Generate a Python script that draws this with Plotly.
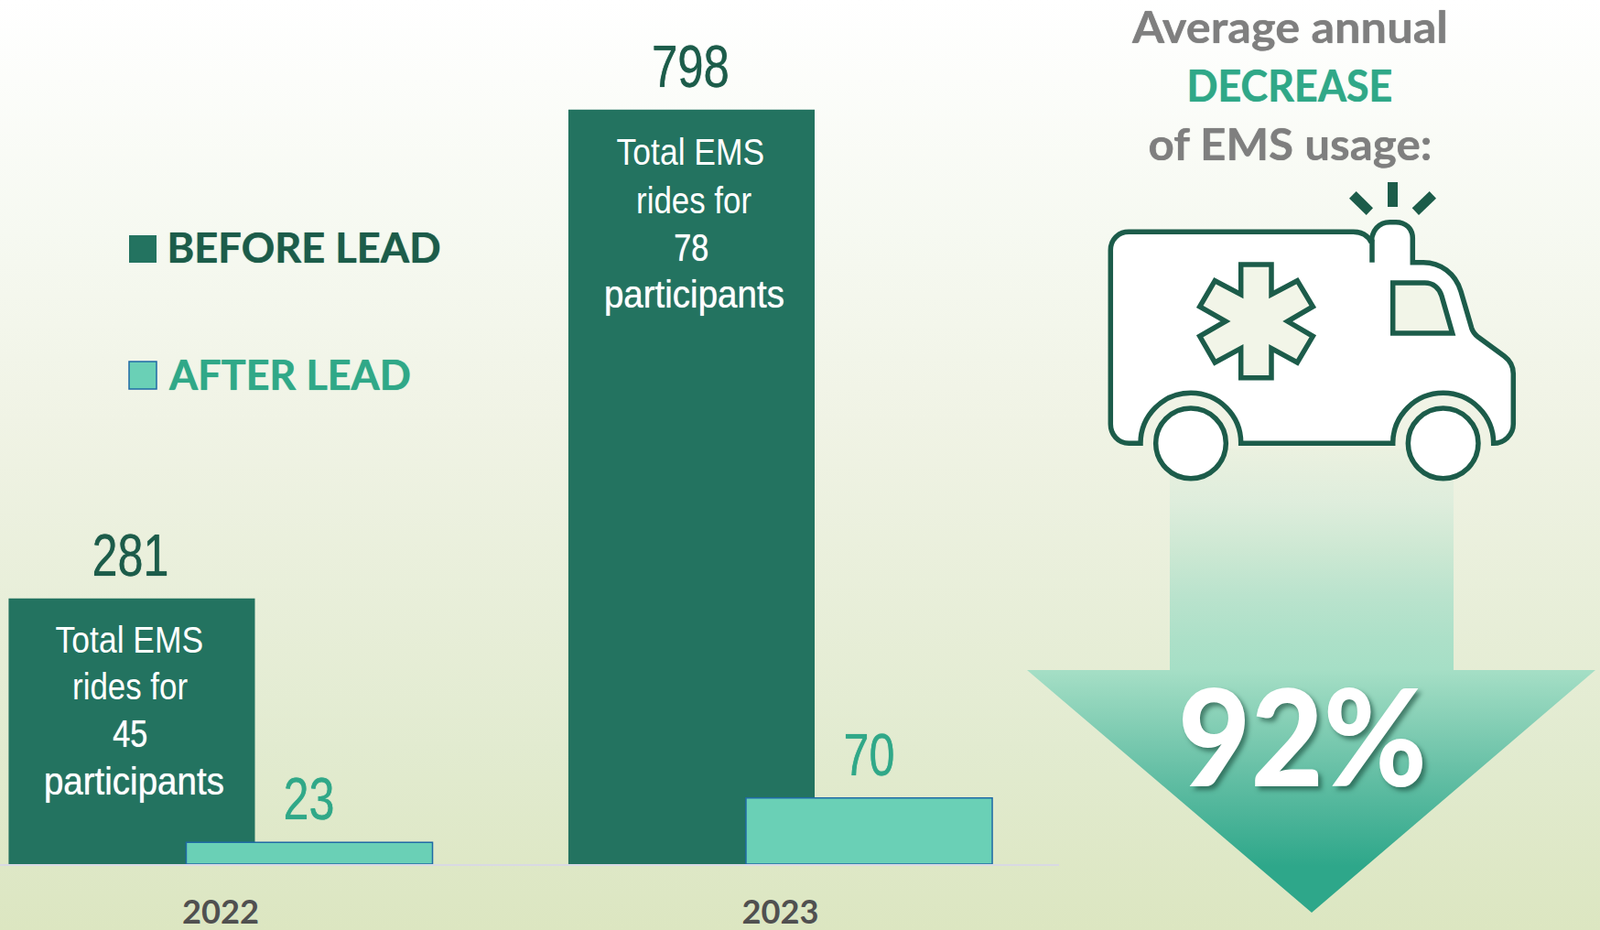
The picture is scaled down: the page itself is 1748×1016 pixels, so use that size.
import json
import plotly.graph_objects as go

# ---- data ----
years = ["2022", "2023"]
before_lead = [281, 798]
after_lead = [23, 70]
before_name = "BEFORE LEAD"
after_name = "AFTER LEAD"
participants = ["45", "78"]
headline = ["Average annual", "DECREASE", "of EMS usage:"]
decrease = "92%"

# ---- styles ----
W, H = 1748, 1016
DARK = "#237360"
DARK_TXT = "#1C5C4A"
LIGHT = "#6AD0B6"
GREEN_TXT = "#30A888"
GRAY_TXT = "#7F7F7F"
EDGE = "#1F6AA5"
NARROW = "Liberation Sans"
BOLD = "Lato"
HOLE = "#F2F5E8"
BAR_W = 0.44
OFF_DARK = -0.3786
OFF_LIGHT = -0.0613

fig = go.Figure()

# background gradient and arrow, on a full-page pixel axis pair
fig.add_trace(go.Scatter(
    x=[0, W, W, 0, 0], y=[0, 0, H, H, 0], mode="lines", fill="toself",
    line=dict(width=0), hoverinfo="skip", showlegend=False,
    fillgradient=dict(type="vertical", start=0, stop=H,
                      colorscale=[[0, "#FFFFFF"], [0.25, "#F6F9F1"], [0.45, "#F0F3E5"],
                                  [0.8, "#E2EBD0"], [1, "#DCE6C1"]])))
ax = [1278, 1588, 1588, 1743, 1433, 1122, 1278, 1278]
ay = [490, 490, 732, 732, 997, 732, 732, 490]
fig.add_trace(go.Scatter(
    x=ax, y=ay, mode="lines", fill="toself", line=dict(width=0),
    hoverinfo="skip", showlegend=False,
    fillgradient=dict(type="vertical", start=490, stop=997,
                      colorscale=[[0, "#EBF1E0"], [0.118, "#DEEDDC"], [0.217, "#CDE8D3"],
                                  [0.316, "#BAE3CD"], [0.414, "#ACE0C8"], [0.475, "#A6DFC6"],
                                  [0.70, "#65BFA5"], [0.9, "#2EA78A"], [1, "#2EA78A"]])))

# bars
fig.add_trace(go.Bar(
    x=years, y=before_lead, name=before_name, xaxis="x2", yaxis="y2",
    width=BAR_W, offset=OFF_DARK, marker=dict(color=DARK, line=dict(width=0)), showlegend=False))
fig.add_trace(go.Bar(
    x=years, y=after_lead, name=after_name, xaxis="x2", yaxis="y2",
    width=BAR_W, offset=OFF_LIGHT, marker=dict(color=LIGHT, line=dict(width=1.5, color=EDGE)),
    showlegend=False))


# ---- ambulance icon: measured in a 3x crop whose corner is (1190, 190) ----
def X(v):
    return 1190 + v / 3


def Y(v):
    return 190 + v / 3


def pt(a, b):
    return f"{X(a):.1f},{Y(b):.1f}"


def arch(cx, cy, r):
    k = 0.5523 * r
    return (f"C{pt(cx + r, cy - k)} {pt(cx + k, cy - r)} {pt(cx, cy - r)} "
            f"C{pt(cx - k, cy - r)} {pt(cx - r, cy - k)} {pt(cx - r, cy)} ")


body = (f"M{pt(1325, 883)} " + arch(1160, 883, 165) + f"L{pt(497, 883)} " + arch(333, 883, 165)
        + f"L{pt(130, 883)} C{pt(95, 883)} {pt(70, 855)} {pt(70, 820)} L{pt(70, 250)} "
        + f"C{pt(70, 215)} {pt(95, 190)} {pt(130, 190)} L{pt(865, 190)} "
        + f"C{pt(895, 190)} {pt(915, 205)} {pt(925, 225)} "
        + f"C{pt(925, 185)} {pt(950, 158)} {pt(985, 158)} L{pt(1005, 158)} "
        + f"C{pt(1037, 158)} {pt(1060, 180)} {pt(1060, 210)} L{pt(1060, 290)} L{pt(1095, 290)} "
        + f"C{pt(1150, 290)} {pt(1200, 325)} {pt(1218, 385)} L{pt(1253, 505)} "
        + f"C{pt(1258, 520)} {pt(1265, 527)} {pt(1275, 535)} L{pt(1360, 597)} "
        + f"C{pt(1380, 612)} {pt(1390, 630)} {pt(1390, 655)} L{pt(1390, 820)} "
        + f"C{pt(1390, 855)} {pt(1360, 883)} {pt(1325, 883)} Z")
star_pts = [(497, 297), (597, 297), (597, 395), (682, 350), (733, 435), (650, 483), (733, 532),
            (682, 618), (597, 572), (597, 668), (497, 668), (497, 572), (412, 618), (362, 532),
            (447, 483), (362, 435), (412, 350), (497, 395)]
star = "M" + " L".join(pt(a, b) for a, b in star_pts) + " Z"
window = (f"M{pt(995, 357)} L{pt(1100, 357)} C{pt(1128, 357)} {pt(1148, 375)} {pt(1155, 400)} "
          f"L{pt(1190, 522)} L{pt(995, 522)} Z")
ray_m = f"M{pt(978, 27)} L{pt(1011, 27)} L{pt(1011, 108)} L{pt(978, 108)} Z"
ray_l = f"M{pt(875, 57)} L{pt(930, 112)} L{pt(908, 135)} L{pt(852, 80)} Z"
ray_r = f"M{pt(1115, 57)} L{pt(1137, 80)} L{pt(1080, 135)} L{pt(1058, 112)} Z"
stub = f"M{pt(927, 215)} L{pt(927, 290)}"

common = dict(xref="x", yref="y", layer="above")
stroke = dict(color=DARK_TXT, width=5.5)
shapes = [
    dict(type="path", path=body, fillcolor="#FFFFFF", line=stroke, **common),
    dict(type="path", path=stub, line=stroke, **common),
    dict(type="path", path=star, fillcolor=HOLE, line=stroke, **common),
    dict(type="path", path=window, fillcolor=HOLE, line=stroke, **common),
    dict(type="path", path=ray_m, fillcolor=DARK_TXT, line=dict(width=0), **common),
    dict(type="path", path=ray_l, fillcolor=DARK_TXT, line=dict(width=0), **common),
    dict(type="path", path=ray_r, fillcolor=DARK_TXT, line=dict(width=0), **common),
]
for cx in (333, 1160):
    shapes.append(dict(type="circle", x0=X(cx - 115), x1=X(cx + 115), y0=Y(883 - 115), y1=Y(883 + 115),
                       fillcolor="#FFFFFF", line=stroke, **common))
# legend swatches
shapes.append(dict(type="rect", x0=141, x1=171, y0=257, y1=287, fillcolor=DARK, line=dict(width=0), **common))
shapes.append(dict(type="rect", x0=141, x1=171, y0=395, y1=425, fillcolor=LIGHT,
                   line=dict(width=1.5, color=EDGE), **common))


def note(text, x, y, family, size, color, **kw):
    anchor = kw.pop("xanchor", "center")
    return dict(text=text, x=x, y=y, xref="x", yref="y", showarrow=False, xanchor=anchor,
                yanchor="middle", font=dict(family=family, size=size, color=color, **kw))


def thick(c):
    return f"0 0 1px {c}"


annotations = [
    note(before_name, 178, 269, BOLD, 46, DARK_TXT, xanchor="left", weight="bold", shadow=thick(DARK_TXT)),
    note(after_name, 179, 408, BOLD, 46, GREEN_TXT, xanchor="left", weight="bold", shadow=thick(GREEN_TXT)),
    note(headline[0], 1409, 29, BOLD, 47, GRAY_TXT, weight="bold", shadow=thick(GRAY_TXT)),
    note(headline[1], 1409, 93, BOLD, 47, GREEN_TXT, weight="bold", shadow=thick(GREEN_TXT)),
    note(headline[2], 1409, 157, BOLD, 47, GRAY_TXT, weight="bold", shadow=thick(GRAY_TXT)),
    note(decrease, 1423, 802, BOLD, 146, "#FFFFFF", weight=900, shadow="4px 4px 5px rgba(20,70,55,0.6)"),
]
bar_text_x = [[141.6, 141.6, 142.7, 146], [754, 758, 755, 758]]
bar_text_y = [[699, 750, 801.6, 853], [166, 218.5, 270, 321]]
for i, n in enumerate(participants):
    lines = ["Total EMS", "rides for", n, "participants"]
    for j, line in enumerate(lines):
        extra = dict(shadow=thick("rgba(255,255,255,0.9)")) if j >= 2 else {}
        annotations.append(note(line, bar_text_x[i][j], bar_text_y[i][j], NARROW,
                                41 if j < 2 else 42, "#FFFFFF", **extra))

# value labels, placed through the bar axes
for i in range(len(years)):
    annotations.append(dict(text=str(before_lead[i]), x=i + OFF_DARK + BAR_W / 2, y=before_lead[i],
                            xref="x2", yref="y2", yshift=47, xshift=-1, showarrow=False, yanchor="middle",
                            font=dict(family=NARROW, size=64, color=DARK_TXT, shadow=thick(DARK_TXT))))
    annotations.append(dict(text=str(after_lead[i]), x=i + OFF_LIGHT + BAR_W / 2, y=after_lead[i],
                            xref="x2", yref="y2", yshift=47, showarrow=False, yanchor="middle",
                            font=dict(family=NARROW, size=64, color=GREEN_TXT, shadow=thick(GREEN_TXT))))

fig.update_layout(
    width=W, height=H, margin=dict(l=0, r=0, t=0, b=0),
    paper_bgcolor="#F0F3E5", plot_bgcolor="rgba(0,0,0,0)",
    barmode="overlay", hovermode=False,
    shapes=shapes, annotations=annotations,
    xaxis=dict(domain=[0, 1], range=[0, W], visible=False, fixedrange=True, automargin=False),
    yaxis=dict(domain=[0, 1], range=[H, 0], visible=False, fixedrange=True, automargin=False),
    xaxis2=dict(domain=[0, 1157 / W], anchor="y2", type="category", range=[-0.394, 1.498],
                showgrid=False, zeroline=False, showline=True, linecolor="#D9D9E3", linewidth=2,
                ticks="outside", ticklen=20, tickcolor="rgba(0,0,0,0)", automargin=False,
                tickfont=dict(family=BOLD, size=36, color="#505050", weight="bold")),
    yaxis2=dict(domain=[72 / H, 1], anchor="x2", range=[0, 914], visible=False, automargin=False),
)

# rendered widths of the condensed / spaced labels in the reference
text_widths = {
    "Total EMS": 161.6, "rides for": 126, "45": 38, "78": 38, "participants": 197,
    "281": 84, "798": 85, "23": 56, "70": 56, "92%": 272,
    "Average annual": 345, "DECREASE": 225, "of EMS usage:": 310,
    "BEFORE LEAD": 299, "AFTER LEAD": 264, "2022": 84, "2023": 84,
}
js = """
(function(){
  var w = %s;
  function fit(){
    document.querySelectorAll('svg text').forEach(function(t){
      var k = t.textContent;
      if (w[k]) { t.setAttribute('lengthAdjust','spacingAndGlyphs'); t.setAttribute('textLength', w[k]); }
    });
  }
  document.body.style.margin='0';
  document.documentElement.style.overflow='hidden';
  fit(); setTimeout(fit, 50); setTimeout(fit, 300);
})();
""" % json.dumps(text_widths)
fig.write_html("out.html", config=dict(displayModeBar=False), post_script=js)
